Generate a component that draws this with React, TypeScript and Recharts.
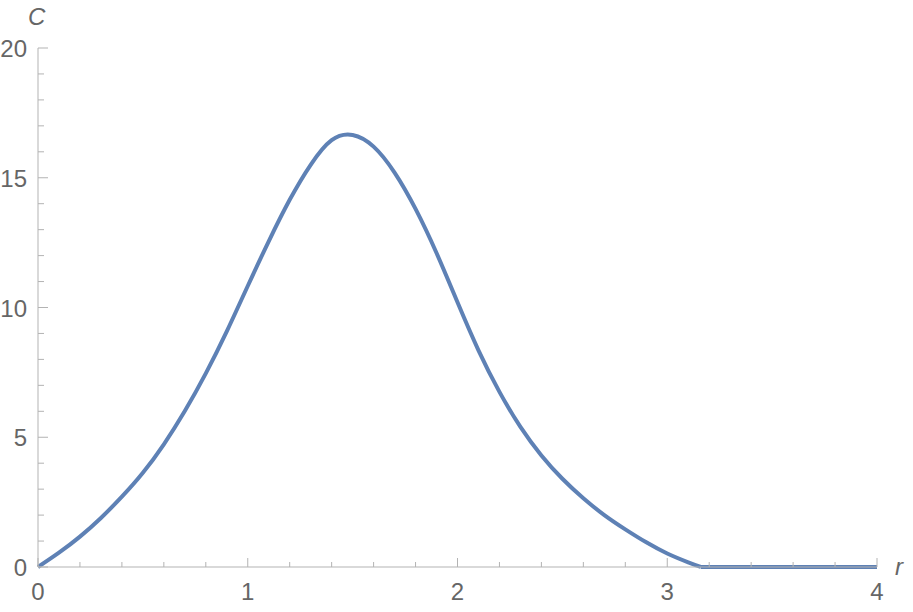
import React from "react";
import { LineChart, Line, XAxis, YAxis } from "recharts";

const rValues = [0, 0.1, 0.2, 0.3, 0.4, 0.5, 0.6, 0.7, 0.8, 0.9, 1.0, 1.1, 1.2, 1.3, 1.4, 1.5, 1.6, 1.7, 1.8, 1.9, 2.0, 2.1, 2.2, 2.3, 2.4, 2.5, 2.6, 2.7, 2.8, 2.9, 3.0, 3.1, 3.16, 3.2, 3.4, 3.6, 3.8, 4.0];
const cValues = [0, 0.55, 1.17, 1.89, 2.71, 3.63, 4.73, 6.01, 7.46, 9.08, 10.83, 12.55, 14.15, 15.5, 16.45, 16.65, 16.2, 15.2, 13.8, 12.1, 10.2, 8.35, 6.75, 5.4, 4.3, 3.4, 2.65, 2.0, 1.45, 0.95, 0.52, 0.18, 0, 0, 0, 0, 0, 0];
const cutoffR = 3.16;

const xTicks = [0, 0.2, 0.4, 0.6, 0.8, 1, 1.2, 1.4, 1.6, 1.8, 2, 2.2, 2.4, 2.6, 2.8, 3, 3.2, 3.4, 3.6, 3.8, 4];
const xMajor = [0, 1, 2, 3, 4];
const yTicks = [0, 1, 2, 3, 4, 5, 6, 7, 8, 9, 10, 11, 12, 13, 14, 15, 16, 17, 18, 19, 20];
const yMajor = [0, 5, 10, 15, 20];

const data = rValues.map((r, i) => ({
  r,
  C: r <= cutoffR ? cValues[i] : null,
  tail: r >= cutoffR ? cValues[i] : null,
}));

const AXIS = "#b3b3b3";
const TEXT = "#666666";
const LINE = "#5e81b5";
const FONT = "'Liberation Sans', Arial, sans-serif";

const isMajor = (v: number, list: number[]) => list.some((m) => Math.abs(m - v) < 1e-6);

const XTick = (props: any) => {
  const { x, y, payload } = props;
  const major = isMajor(payload.value, xMajor);
  return (
    <g>
      <line x1={x} x2={x} y1={y} y2={y - (major ? 9 : 5)} stroke={AXIS} strokeWidth={1} />
      {major && (
        <text x={x} y={y + 33} textAnchor="middle" fill={TEXT} fontSize={24} fontFamily={FONT}>
          {payload.value}
        </text>
      )}
    </g>
  );
};

const YTick = (props: any) => {
  const { x, y, payload } = props;
  const major = isMajor(payload.value, yMajor);
  return (
    <g>
      <line x1={x} x2={x + (major ? 10 : 6)} y1={y} y2={y} stroke={AXIS} strokeWidth={1} />
      {major && (
        <text x={x - 11} y={y + 9} textAnchor="end" fill={TEXT} fontSize={24} fontFamily={FONT}>
          {payload.value}
        </text>
      )}
    </g>
  );
};

export default function App() {
  return (
    <div style={{ position: "absolute", left: 0, top: 0, width: 913, height: 612, background: "#fff" }}>
      <LineChart width={913} height={612} data={data} margin={{ top: 48, right: 36, bottom: 0, left: 0 }}>
        <XAxis
          dataKey="r"
          type="number"
          domain={[0, 4]}
          ticks={xTicks}
          interval={0}
          height={45}
          tickSize={0}
          tickMargin={0}
          axisLine={{ stroke: AXIS, strokeWidth: 1 }}
          tick={<XTick />}
        />
        <YAxis
          type="number"
          domain={[0, 20]}
          ticks={yTicks}
          interval={0}
          width={38}
          tickSize={0}
          tickMargin={0}
          axisLine={{ stroke: AXIS, strokeWidth: 1 }}
          tick={<YTick />}
        />
        <Line
          type="natural"
          dataKey="C"
          stroke={LINE}
          strokeWidth={4}
          dot={false}
          isAnimationActive={false}
        />
        <Line
          type="linear"
          dataKey="tail"
          stroke={LINE}
          strokeWidth={4}
          dot={false}
          isAnimationActive={false}
        />
      </LineChart>
      <div
        style={{
          position: "absolute",
          left: 28,
          top: 3,
          fontFamily: FONT,
          fontStyle: "italic",
          fontSize: 24,
          color: TEXT,
          lineHeight: "28px",
        }}
      >
        C
      </div>
      <div
        style={{
          position: "absolute",
          left: 895,
          top: 553,
          fontFamily: FONT,
          fontStyle: "italic",
          fontSize: 24,
          color: TEXT,
          lineHeight: "28px",
        }}
      >
        r
      </div>
    </div>
  );
}
